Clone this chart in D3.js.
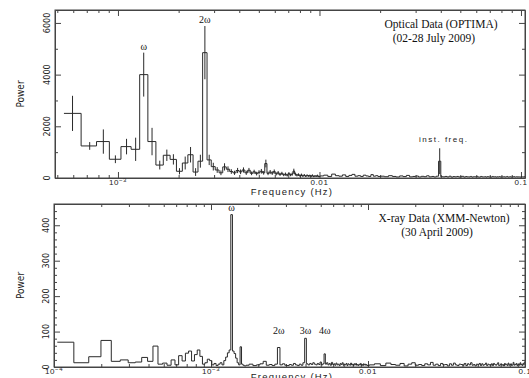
<!DOCTYPE html>
<html lang="en">
<head>
<meta charset="UTF-8" />
<style>
  body { margin: 0; background: #fff; }
  .lab { font-family: 'Liberation Sans', Arial, sans-serif; fill: #222; }
  .narrow { font-family: 'Liberation Sans Narrow', 'DejaVu Sans Condensed', 'Liberation Sans', sans-serif; fill: #222; }
  .serif { font-family: 'Liberation Serif', 'Times New Roman', serif; fill: #111; }
  .axis path, .axis line { stroke: #444; }
</style>
</head>
<body>
<svg id="chart" width="529" height="378"></svg>
<script src="https://d3js.org/d3.v7.min.js"></script>
<script>
// ---- optical data (OPTIMA), frequencies in mHz ----
var optLowFreq = [0.595, 0.724, 0.846, 0.971, 1.103, 1.224, 1.342]
var optLowPow  = [2500, 1240, 1410, 725, 1215, 1110, 4000]
var optLowErr  = [680, 150, 470, 150, 300, 450, 850]

// bins every 0.136 mHz from 1.476 mHz
var optMidStart = 1.476, optMidStep = 0.136
var optMidPow = [1410, 500, 880, 720, 260, 580, 900, 230, 650, 4850,
                 700, 440, 310, 200, 430, 340, 250, 200, 290, 240,
                 310, 200, 300, 180, 240, 170, 220, 260, 200, 560,
                 180, 230, 190, 250, 160, 200, 140, 180, 120, 150,
                 110, 170, 120, 150, 270, 150, 110, 130, 90, 120,
                 80, 110, 70, 100, 80, 90, 70, 100, 60, 80,
                 70, 90, 60]
var optMidErr = [530, 170, 220, 200, 120, 250, 300, 150, 250, 1030,
                 200, 150, 110, 90, 140, 110, 90, 80, 100, 90,
                 100, 80, 90, 70, 80, 70, 80, 90, 70, 150,
                 70, 80, 70, 80, 60, 70, 60, 60, 50, 60,
                 50, 60, 50, 60, 90, 60, 50, 50, 40, 50,
                 40, 40, 30, 40, 30, 40, 30, 40, 30, 30,
                 30, 40, 30]

// high frequencies, coarser
var optHigh1Start = 10.25, optHigh1Step = 0.5
var optHigh1Pow = [80, 110, 60, 150, 90, 70, 120, 60, 100, 140,
                   70, 90, 60, 110, 80, 60, 130, 70, 90, 60]
var optHigh2Start = 20.5, optHigh2Step = 1
var optHigh2Pow = [70, 50, 90, 60, 40, 80, 55, 100, 45, 60,
                   75, 40, 65, 50, 85, 45, 60, 40, 70, 650,
                   50, 45, 60, 40, 70, 35, 55, 45, 60, 40,
                   50, 65, 35, 55, 45, 40, 60, 35, 50, 45,
                   55, 40, 35, 60, 45, 40, 50, 35, 55, 40,
                   45, 35, 60, 40, 50, 35, 45, 40, 55, 35,
                   45, 40, 50, 35, 45, 60, 35, 40, 50, 35,
                   45, 40, 55, 35, 40, 50, 35, 45, 40, 35,
                   50, 40, 45, 35, 55, 40, 35, 45, 40, 50]
var instFreq = 39.5, instErr = 500

// ---- X-ray data (XMM-Newton), frequencies in mHz ----
var xrayLowStart = 0.1185, xrayLowStep = 0.0325
var xrayLowPow = [70, 12, 29, 75, 16, 20, 12, 14, 27, 16,
                  59, 8, 11, 5, 20, 6, 32, 17, 39, 45,
                  17, 35, 48, 30, 8, 12, 22, 18, 6, 10,
                  4, 8, 12, 6, 18, 28, 40, 48, 430, 45,
                  38, 25, 12, 6, 57, 8, 5, 3]
var xrayMidStart = 1.7, xrayMidStep = 0.1
var xrayMidPow = [5, 8, 4, 6, 9, 16, 5, 7, 4, 8,
                  55, 6, 9, 5, 4, 7, 5, 10, 6, 4,
                  8, 5, 12, 81, 9, 6, 10, 7, 12, 8,
                  6, 10, 7, 14, 6, 9, 37, 8, 12, 6,
                  10, 5, 13, 7, 9, 5, 11, 6, 8, 4,
                  10, 7, 12, 5, 8, 6, 10, 4, 9, 7,
                  5, 11, 6, 8, 4, 9, 6, 10, 5, 7,
                  4, 8, 6, 10, 5, 7, 4, 9, 6, 8,
                  5, 7, 4]
var xrayHighStart = 10.5, xrayHighStep = 1
var xrayHighPow = [6, 9, 4, 11, 7, 5, 10, 3, 8, 12,
                   5, 7, 4, 9, 6, 13, 5, 8, 4, 10,
                   6, 7, 3, 9, 5, 11, 6, 4, 8, 7,
                   5, 10, 4, 9, 6, 12, 5, 7, 3, 8,
                   6, 10, 4, 9, 5, 7, 11, 4, 8, 6,
                   5, 9, 4, 10, 7, 5, 8, 12, 4, 6,
                   9, 5, 7, 3, 10, 6, 8, 4, 11, 5,
                   7, 9, 4, 6, 13, 5, 8, 6, 10, 4,
                   7, 9, 5, 12, 6, 8, 4, 10, 7, 14]

// harmonic labels (top = power level the label sits on)
var optPeaks = [{f: 1.342, top: 4850, t: "\u03c9"}, {f: 2.7, top: 5900, t: "2\u03c9"}]
var xrayPeaks = [{f: 1.3535, top: 432, t: "\u03c9"}, {f: 2.7, top: 84, t: "2\u03c9"},
                 {f: 4.0, top: 84, t: "3\u03c9"}, {f: 5.3, top: 84, t: "4\u03c9"}]

function grid(start, step, pows, errs) {
    return pows.map(function (p, i) {
        return {f: start + i * step, p: p, e: errs ? errs[i] : 0}
    })
}

var optData = optLowPow.map(function (p, i) { return {f: optLowFreq[i], p: p, e: optLowErr[i]} })
    .concat(grid(optMidStart, optMidStep, optMidPow, optMidErr))
    .concat(grid(optHigh1Start, optHigh1Step, optHigh1Pow))
    .concat(grid(optHigh2Start, optHigh2Step, optHigh2Pow))
optData.forEach(function (d) { if (Math.abs(d.f - instFreq) < 1e-6) d.e = instErr })

var xrayData = grid(xrayLowStart, xrayLowStep, xrayLowPow)
    .concat(grid(xrayMidStart, xrayMidStep, xrayMidPow))
    .concat(grid(xrayHighStart, xrayHighStep, xrayHighPow))

var svg = d3.select("#chart")

function histPath(data, x, y) {
    var px = data.map(function (d) { return x(d.f / 1000) })
    var s = ""
    data.forEach(function (d, i) {
        var l = i == 0 ? px[0] - (px[1] - px[0]) / 2 : (px[i - 1] + px[i]) / 2
        var r = i == data.length - 1 ? px[i] + (px[i] - px[i - 1]) / 2 : (px[i] + px[i + 1]) / 2
        s += (i == 0 ? "M" : "L") + l + "," + y(d.p) + "H" + r
    })
    return s
}

function isDecade(v) {
    var l = Math.log10(v)
    return Math.abs(l - Math.round(l)) < 1e-6
}

function panel(opt) {
    var x = d3.scaleLog().domain(opt.xDomain).range([opt.left, opt.right])
    var y = d3.scaleLinear().domain([0, opt.yMax]).range([opt.bottom, opt.top])
    var g = svg.append("g")
    var xt = x.ticks()
    var yt = d3.range(0, opt.yMax + 1, opt.yMinor)

    var bx = g.append("g").attr("class", "axis").attr("transform", "translate(0," + opt.bottom + ")")
        .call(d3.axisBottom(x).tickValues(xt).tickSize(-3).tickSizeOuter(0).tickFormat(""))
    var tx = g.append("g").attr("class", "axis").attr("transform", "translate(0," + opt.top + ")")
        .call(d3.axisTop(x).tickValues(xt).tickSize(-3).tickSizeOuter(0).tickFormat(""))
    bx.selectAll(".tick line").filter(function (d) { return isDecade(d) }).attr("y2", -6)
    tx.selectAll(".tick line").filter(function (d) { return isDecade(d) }).attr("y2", 6)

    var ly = g.append("g").attr("class", "axis").attr("transform", "translate(" + opt.left + ",0)")
        .call(d3.axisLeft(y).tickValues(yt).tickSize(-3).tickSizeOuter(0).tickFormat(""))
    var ry = g.append("g").attr("class", "axis").attr("transform", "translate(" + opt.right + ",0)")
        .call(d3.axisRight(y).tickValues(yt).tickSize(-3).tickSizeOuter(0).tickFormat(""))
    ly.selectAll(".tick line").filter(function (d) { return d % opt.yMajor == 0 }).attr("x2", 6)
    ry.selectAll(".tick line").filter(function (d) { return d % opt.yMajor == 0 }).attr("x2", -6)
    g.selectAll(".axis text").remove()

    // y tick labels, rotated
    g.selectAll(".ylab").data(yt.filter(function (d) { return d % opt.yMajor == 0 }))
        .enter().append("text").attr("class", "narrow")
        .attr("font-size", 9)
        .attr("text-anchor", "middle")
        .attr("transform", function (d) { return "translate(" + (opt.left - 5) + "," + y(d) + ") rotate(-90)" })
        .text(function (d) { return d })

    // x tick labels
    var xl = g.selectAll(".xlab").data(xt.filter(isDecade))
        .enter().append("text").attr("class", "lab")
        .attr("font-size", 8).attr("letter-spacing", 0.6)
        .attr("text-anchor", "middle")
        .attr("x", function (d) { return x(d) })
        .attr("y", opt.bottom + 6.5)
    xl.each(function (d) {
        var t = d3.select(this)
        if (d < 0.005) {
            t.text("10")
            t.append("tspan").attr("font-size", 6).attr("dy", -3).text("\u2212" + Math.round(-Math.log10(d)))
        } else {
            t.text(d >= 0.1 ? "0.1" : "0.01")
        }
    })

    g.append("text").attr("class", "lab").attr("font-size", 9.5).attr("letter-spacing", 1.2)
        .attr("text-anchor", "middle").attr("x", 292).attr("y", opt.bottom + opt.xTitleGap)
        .text("Frequency (Hz)")
    g.append("text").attr("class", "narrow").attr("font-size", 10)
        .attr("text-anchor", "middle")
        .attr("transform", "translate(24," + ((opt.top + opt.bottom) / 2) + ") rotate(-90)")
        .text("Power")

    // data
    var clipId = "clip" + opt.top
    svg.append("clipPath").attr("id", clipId).append("rect")
        .attr("x", opt.left).attr("y", opt.top)
        .attr("width", opt.right - opt.left).attr("height", opt.bottom - opt.top)
    var dg = g.append("g").attr("clip-path", "url(#" + clipId + ")")
    dg.append("path").attr("d", histPath(opt.data, x, y))
        .attr("fill", "none").attr("stroke", "#2a2a2a").attr("stroke-width", 1)
    dg.selectAll(".err").data(opt.data.filter(function (d) { return d.e > 0 }))
        .enter().append("line")
        .attr("x1", function (d) { return x(d.f / 1000) })
        .attr("x2", function (d) { return x(d.f / 1000) })
        .attr("y1", function (d) { return y(Math.max(0, d.p - d.e)) })
        .attr("y2", function (d) { return y(d.p + d.e) })
        .attr("stroke", "#2a2a2a").attr("stroke-width", 1)

    // frame
    g.append("rect").attr("x", opt.left).attr("y", opt.top)
        .attr("width", opt.right - opt.left).attr("height", opt.bottom - opt.top)
        .attr("fill", "none").attr("stroke", "#444")

    // peak labels
    g.selectAll(".pk").data(opt.peaks).enter().append("text")
        .attr("class", "serif").attr("font-size", 10).attr("text-anchor", "middle")
        .attr("x", function (d) { return x(d.f / 1000) })
        .attr("y", function (d) { return y(d.top) - 3 })
        .text(function (d) { return d.t })

    opt.titles.forEach(function (t, i) {
        g.append("text").attr("class", "serif").attr("font-size", 11.5)
            .attr("text-anchor", "middle").attr("x", t[1]).attr("y", opt.top + 18 + i * 14)
            .text(t[0])
    })
    return {x: x, y: y, g: g}
}

var optPanel = panel({
    data: optData, xDomain: [4.87e-4, 0.1047], left: 55, right: 525, top: 10, bottom: 178,
    yMax: 6500, yMajor: 2000, yMinor: 1000, peaks: optPeaks, xTitleGap: 16.5,
    titles: [["Optical Data (OPTIMA)", 441], ["(02-28 July 2009)", 434]]
})
optPanel.g.append("text").attr("class", "lab").attr("font-size", 8).attr("letter-spacing", 1.5)
    .attr("text-anchor", "middle").attr("x", optPanel.x(instFreq / 1000) + 4)
    .attr("y", optPanel.y(instErr + 650) - 6)
    .text("inst. freq.")

panel({
    data: xrayData, xDomain: [1e-4, 0.1], left: 54, right: 525, top: 204, bottom: 367,
    yMax: 460, yMajor: 100, yMinor: 20, peaks: xrayPeaks, xTitleGap: 13,
    titles: [["X-ray Data (XMM-Newton)", 444], ["(30 April 2009)", 437]]
})
</script>
</body>
</html>
